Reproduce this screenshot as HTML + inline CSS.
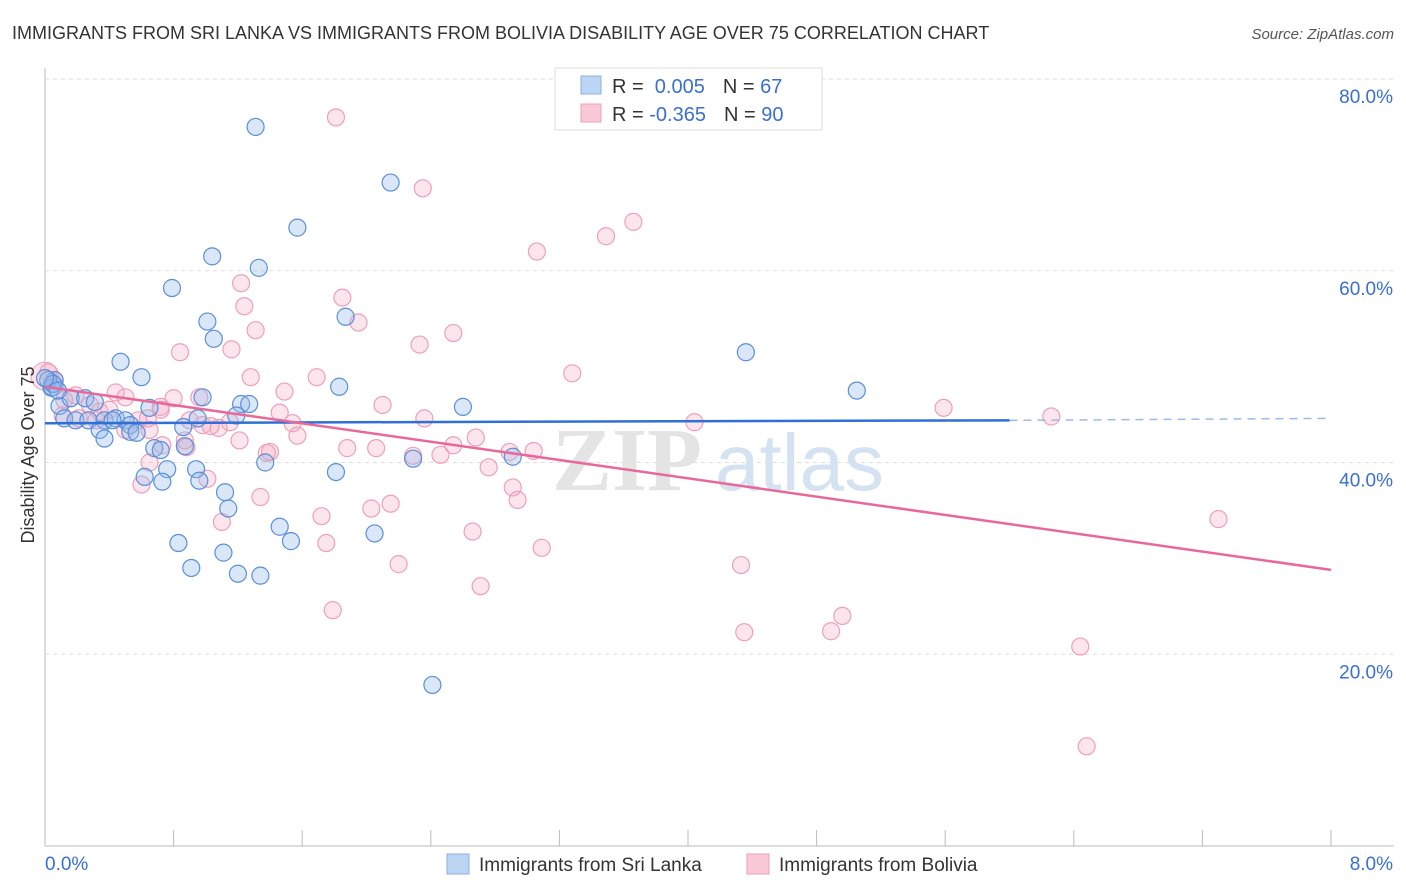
<!DOCTYPE html>
<html><head><meta charset="utf-8"><style>
body{margin:0;background:#fff;font-family:"Liberation Sans",sans-serif}
svg{display:block}
</style></head><body>
<svg id="chart" width="1406" height="892">
<text x="12" y="39" font-size="18" fill="#333">IMMIGRANTS FROM SRI LANKA VS IMMIGRANTS FROM BOLIVIA DISABILITY AGE OVER 75 CORRELATION CHART</text>
<text x="1394" y="39" font-size="15" fill="#555" font-style="italic" text-anchor="end">Source: ZipAtlas.com</text>
<g id="grid"></g>
<g><text x="552" y="490" font-size="90" fill="#e4e4e4" font-family="Liberation Serif,serif" font-weight="bold">ZIP</text><text x="715" y="490" font-size="80" fill="#d4e2f2">atlas</text></g>
<g id="marks"></g>
<text transform="translate(34,455) rotate(-90)" font-size="18" fill="#333" text-anchor="middle">Disability Age Over 75</text>
<g>
<rect x="555" y="68" width="267" height="62" fill="#fff" stroke="#ddd"/>
<rect x="581" y="76" width="20" height="18" fill="#bcd5f5" stroke="#8ab0e0"/>
<rect x="581" y="104" width="20" height="18" fill="#f9c8d6" stroke="#eea0b8"/>
<text x="612" y="93" font-size="20" fill="#333">R = <tspan fill="#3a6fd0">&#160;0.005</tspan><tspan dx="18">N = </tspan><tspan fill="#3a6fd0">67</tspan></text>
<text x="612" y="121" font-size="20" fill="#333">R = <tspan fill="#3a6fd0">-0.365</tspan><tspan dx="18">N = </tspan><tspan fill="#3a6fd0">90</tspan></text>
</g>
<g>
<rect x="447" y="854" width="22" height="20" fill="#bcd5f5" stroke="#8ab0e0"/>
<text x="479" y="871" font-size="19" fill="#333">Immigrants from Sri Lanka</text>
<rect x="747" y="854" width="22" height="20" fill="#f9c8d6" stroke="#eea0b8"/>
<text x="779" y="871" font-size="19" fill="#333">Immigrants from Bolivia</text>
</g>
</svg>
<script>
const xTicks=[0,0.8,1.6,2.4,3.2,4.0,4.8,5.6,6.4,7.2,8.0];
const yTicks=[20,40,60,80];
const yTickLabels=["20.0%","40.0%","60.0%","80.0%"];
const xEndLabels=["0.0%","8.0%"];
const blueX=[1.31,2.15,1.57,1.04,1.33,0.79,1.01,1.05,1.87,4.36,0.47,0.60,1.83,5.05,0.98,2.60,0.65,1.22,1.27,1.19,0.06,0.04,0.09,0.16,0.25,0.31,0.12,0.19,0.27,0.37,0.44,0.50,0.53,0.34,0.37,0.53,0.57,0.86,0.95,0.68,0.72,0.87,0.94,0.76,0.62,0.73,0.96,1.12,1.14,1.37,2.29,2.91,1.81,1.46,2.05,1.53,0.83,1.11,0.91,1.20,1.34,2.41,0.02,0.05,0.08,0.42,0.0];
const blueY=[75.0,69.2,64.5,61.5,60.3,58.2,54.7,52.9,55.2,51.5,50.5,48.9,47.9,47.5,46.8,45.8,45.7,46.1,46.1,44.9,48.6,47.8,45.9,46.7,46.7,46.3,44.6,44.4,44.4,44.4,44.6,44.4,43.9,43.4,42.5,43.2,43.1,43.7,44.6,41.5,41.3,41.7,39.3,39.3,38.5,38.0,38.1,36.9,35.2,40.0,40.4,40.6,39.0,33.3,32.6,31.8,31.6,30.6,29.0,28.4,28.2,16.8,48.6,48.2,47.5,44.4,48.8];
const pinkX=[1.81,2.35,3.66,3.49,3.06,1.22,1.85,1.24,1.95,2.54,1.31,0.84,1.16,2.33,3.28,1.69,1.28,1.49,0.44,0.50,0.80,2.10,6.26,5.59,4.04,2.36,1.46,0.98,1.15,1.08,1.03,1.54,1.57,1.40,1.38,1.88,2.06,2.68,2.54,2.29,2.46,2.89,3.04,2.76,0.65,0.88,0.73,0.60,1.01,1.34,1.10,1.72,2.15,2.03,2.91,2.94,2.66,1.75,3.09,2.20,4.33,2.71,7.30,1.79,4.35,4.96,4.89,6.44,6.48,0.02,0.06,0.12,0.19,0.28,0.34,0.11,0.21,0.64,0.72,0.90,0.58,0.40,0.32,0.50,0.65,0.87,1.21,0.96,0.72];
const pinkY=[76.0,68.6,65.1,63.6,62.0,58.7,57.2,56.3,54.6,53.5,53.8,51.5,51.8,52.3,49.3,48.9,48.9,47.4,47.3,46.8,46.7,46.0,44.8,45.7,44.2,44.6,45.2,43.9,44.2,43.6,43.8,44.1,42.8,41.1,41.0,41.5,41.5,42.6,41.8,40.7,40.8,41.1,41.2,39.5,40.0,41.6,41.8,37.7,38.3,36.4,33.8,34.4,35.7,35.2,37.4,36.1,32.8,31.6,31.1,29.4,29.3,27.1,34.1,24.6,22.3,24.0,22.4,20.8,10.4,49.4,48.6,46.5,47.0,46.0,45.3,44.9,44.6,44.6,45.8,44.4,44.4,45.5,44.4,43.4,43.4,42.3,42.3,46.8,45.5];
const blueTrend=[44.1,44.4,44.6]; // at x=0, 6.0, 8.0
const pinkTrend=[47.9,28.8]; // at x=0, 8.0
const X0=45,X1=1331,Y0=846,Y80=79;
const sx=v=>X0+(v/8)*(X1-X0);
const sy=v=>Y0-(v/80)*(Y0-Y80);
const NS="http://www.w3.org/2000/svg";
const grid=document.getElementById('grid'),marks=document.getElementById('marks');
function mk(tag,attrs,parent){const e=document.createElementNS(NS,tag);for(const k in attrs)e.setAttribute(k,attrs[k]);parent.appendChild(e);return e;}
let ax=mk('line',{x1:X0,y1:68,x2:X0,y2:Y0,stroke:'#bbb'},grid);


let bx=mk('line',{x1:X0,y1:Y0,x2:1394,y2:Y0,stroke:'#bbb'},grid);


yTicks.forEach((t,i)=>{
 let g=mk('line',{x1:X0,y1:sy(t),x2:1394,y2:sy(t),stroke:'#ddd','stroke-dasharray':'4,4'},grid);
 
 
 let l=mk('text',{x:1393,y:sy(t)+24,'font-size':19,fill:'#3a6fd0','text-anchor':'end'},grid);
 l.textContent=yTickLabels[i];
 
 
});
xTicks.forEach(t=>{
 let k=mk('line',{x1:sx(t),y1:Y0,x2:sx(t),y2:Y0-16,stroke:'#bbb'},grid);
 
 
});
[[0,45,'start'],[1,1393,'end']].forEach(([i,x,a])=>{
 let l=mk('text',{x:x,y:870,'font-size':19,fill:'#3a6fd0','text-anchor':a},grid);
 l.textContent=xEndLabels[i];
 
 
});
// big origin circles
let bp=mk('circle',{cx:sx(0.0),cy:sy(49.0),r:14,fill:'rgba(245,160,185,0.3)',stroke:'#eea0b8'},marks);


let bb=mk('circle',{cx:sx(0.05),cy:sy(48.0),r:10,fill:'rgba(120,160,220,0.4)',stroke:'#5b8fd8'},marks);


pinkX.forEach((x,i)=>{
 let c=mk('circle',{cx:sx(x),cy:sy(pinkY[i]),r:8.5,fill:'rgba(246,170,195,0.3)',stroke:'#eea0b8','stroke-width':1.2},marks);
 
 
});
blueX.forEach((x,i)=>{
 let c=mk('circle',{cx:sx(x),cy:sy(blueY[i]),r:8.5,fill:'rgba(150,185,235,0.35)',stroke:'#5b8fd8','stroke-width':1.2},marks);
 
 
});
let t1=mk('line',{x1:sx(0),y1:sy(blueTrend[0]),x2:sx(6.0),y2:sy(blueTrend[1]),stroke:'#2f6fd6','stroke-width':2.5},marks);


let t2=mk('line',{x1:sx(6.0),y1:sy(blueTrend[1]),x2:sx(8.0),y2:sy(blueTrend[2]),stroke:'#9bbbe8','stroke-width':1.5,'stroke-dasharray':'8,6'},marks);


let t3=mk('line',{x1:sx(0),y1:sy(pinkTrend[0]),x2:sx(8),y2:sy(pinkTrend[1]),stroke:'#e8689a','stroke-width':2.5},marks);


</script>
</body></html>
